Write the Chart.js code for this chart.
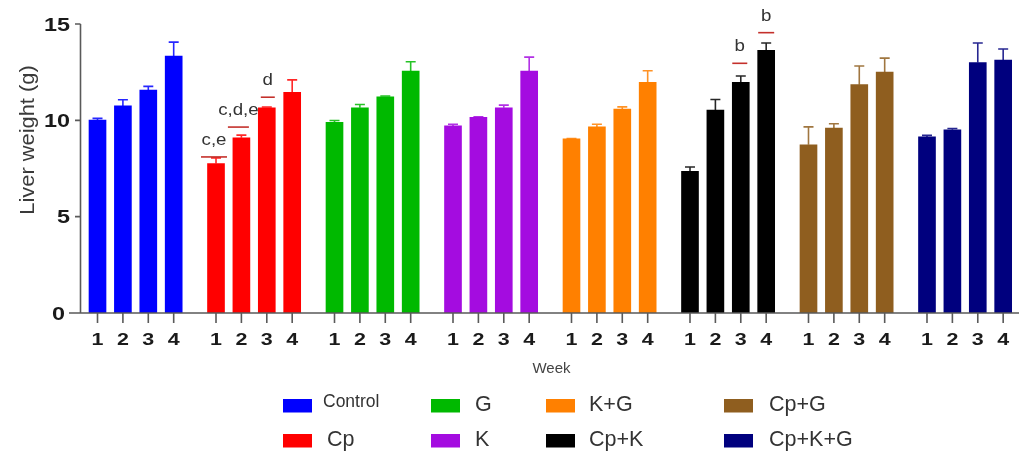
<!DOCTYPE html>
<html>
<head>
<meta charset="utf-8">
<title>Liver weight by week</title>
<script src="https://cdn.jsdelivr.net/npm/chart.js@4.4.1/dist/chart.umd.min.js"></script>
<style>
  html, body { margin: 0; padding: 0; background: #ffffff; }
  #wrap { width: 1019px; height: 453px; position: relative; }
</style>
</head>
<body>
<div id="wrap"><canvas id="chart" width="1019" height="453"></canvas></div>
<script>
// ---- data ----
const groups = ['Control', 'Cp', 'G', 'K', 'K+G', 'Cp+K', 'Cp+G', 'Cp+K+G'];
const weeks = ['1', '2', '3', '4'];
const yTicks = [0, 5, 10, 15];

// mean liver weight (g) per week, one array per treatment group
const controlMean = [10.01, 10.75, 11.57, 13.34];
const cpMean      = [7.76, 9.09, 10.65, 11.45];
const gMean       = [9.89, 10.65, 11.22, 12.56];
const kMean       = [9.71, 10.15, 10.65, 12.56];
const kgMean      = [9.04, 9.66, 10.58, 11.97];
const cpkMean     = [7.35, 10.53, 11.97, 13.63];
const cpgMean     = [8.73, 9.60, 11.85, 12.50];
const cpkgMean    = [9.14, 9.51, 13.00, 13.13];

// standard error (upper whisker) per week
const controlSem = [0.09, 0.32, 0.19, 0.72];
const cpSem      = [0.29, 0.14, 0.04, 0.65];
const gSem       = [0.10, 0.17, 0.04, 0.48];
const kSem       = [0.09, 0.03, 0.14, 0.72];
const kgSem      = [0.02, 0.14, 0.12, 0.60];
const cpkSem     = [0.23, 0.55, 0.33, 0.38];
const cpgSem     = [0.93, 0.22, 0.97, 0.73];
const cpkgSem    = [0.08, 0.07, 1.01, 0.57];

// significance letters: group index, week index, bracket level (g), label
const sigGroup = [1, 1, 1, 5, 5];
const sigWeek  = [0, 1, 2, 2, 3];
const sigLevel = [8.10, 9.65, 11.20, 12.96, 14.55];
const sigLabel = ['c,e', 'c,d,e', 'd', 'b', 'b'];

// ---- styles / layout ----
const groupColors = ['#0000ff', '#ff0000', '#00b900', '#a40ce0', '#ff8000', '#000000', '#8f5e1f', '#00007e'];
const FONT = "'Liberation Sans', Arial, Helvetica, sans-serif";
const BAR_STEP = 0.2143;          // spacing between week bars, in group units
const sigLineWidth = [26, 21, 14, 15, 16];
const sigLineShift = [-2, -3, 1, -1, 0];
const legendSwatchX = [283, 431, 546, 724];
const legendTextX = [[323, 327], [475, 475], [589, 589], [769, 769]];
const legendSwatchTop = [399, 434];
const legendBaseline = [411, 446];

const meanByGroup = [controlMean, cpMean, gMean, kMean, kgMean, cpkMean, cpgMean, cpkgMean];
const semByGroup  = [controlSem, cpSem, gSem, kSem, kgSem, cpkSem, cpgSem, cpkgSem];

const points = [];
const pointColors = [];
const pointSem = [];
groups.forEach((g, gi) => {
  weeks.forEach((w, wi) => {
    points.push({ x: gi + (wi - 1.5) * BAR_STEP, y: meanByGroup[gi][wi] });
    pointColors.push(groupColors[gi]);
    pointSem.push(semByGroup[gi][wi]);
  });
});

function drawText(ctx, text, x, y, font, color, align, sx) {
  ctx.save();
  ctx.font = font;
  ctx.fillStyle = color;
  ctx.textAlign = align || 'left';
  ctx.textBaseline = 'alphabetic';
  ctx.translate(x, y);
  ctx.scale(sx || 1, 1);
  ctx.fillText(text, 0, 0);
  ctx.restore();
}

// axes, whiskers, significance marks, week labels and legend
const decorations = {
  id: 'decorations',
  afterDatasetsDraw(chart) {
    const ctx = chart.ctx;
    const ys = chart.scales.y;
    const area = chart.chartArea;
    const bars = chart.getDatasetMeta(0).data;
    const axisColor = '#5a5a5a';
    const y0 = ys.getPixelForValue(0);

    // error whiskers (upper only)
    bars.forEach((el, i) => {
      const top = ys.getPixelForValue(points[i].y + pointSem[i]);
      const base = ys.getPixelForValue(points[i].y);
      ctx.save();
      ctx.strokeStyle = pointColors[i];
      ctx.globalAlpha = 0.85;
      ctx.lineWidth = 1.6;
      ctx.beginPath();
      ctx.moveTo(el.x, base);
      ctx.lineTo(el.x, top);
      ctx.moveTo(el.x - 5, top);
      ctx.lineTo(el.x + 5, top);
      ctx.stroke();
      ctx.restore();
    });

    // y axis line, ticks and labels
    ctx.save();
    ctx.strokeStyle = axisColor;
    ctx.lineWidth = 1.6;
    ctx.beginPath();
    ctx.moveTo(area.left + 0.5, ys.getPixelForValue(15));
    ctx.lineTo(area.left + 0.5, y0);
    yTicks.forEach(v => {
      const py = ys.getPixelForValue(v);
      ctx.moveTo(area.left - 5, py);
      ctx.lineTo(area.left + 0.5, py);
    });
    // x axis line
    ctx.moveTo(area.left - 11, y0);
    ctx.lineTo(area.right, y0);
    // week ticks under each bar
    bars.forEach(el => {
      ctx.moveTo(el.x, y0);
      ctx.lineTo(el.x, y0 + 10);
    });
    ctx.stroke();
    ctx.restore();

    yTicks.forEach(v => {
      const py = ys.getPixelForValue(v);
      drawText(ctx, String(v), v === 0 ? area.left - 15 : area.left - 10, py + 6.5,
        'bold 18px ' + FONT, '#1a1a1a', 'right', 1.3);
    });

    bars.forEach((el, i) => {
      drawText(ctx, weeks[i % 4], el.x, y0 + 31.5, 'bold 16.5px ' + FONT, '#1a1a1a', 'center', 1.3);
    });

    // significance brackets and letters
    sigLabel.forEach((lab, k) => {
      const el = bars[sigGroup[k] * 4 + sigWeek[k]];
      const cx = el.x + sigLineShift[k];
      const py = ys.getPixelForValue(sigLevel[k]);
      ctx.save();
      ctx.strokeStyle = '#c4302b';
      ctx.lineWidth = 1.6;
      ctx.beginPath();
      ctx.moveTo(cx - sigLineWidth[k] / 2, py);
      ctx.lineTo(cx + sigLineWidth[k] / 2, py);
      ctx.stroke();
      ctx.restore();
      drawText(ctx, lab, cx, py - 12, '17px ' + FONT, '#333333', 'center', 1.1);
    });
  },
  afterDraw(chart) {
    const ctx = chart.ctx;
    const ys = chart.scales.y;
    const area = chart.chartArea;
    const y0 = ys.getPixelForValue(0);

    // axis titles
    drawText(ctx, 'Week', (area.left + area.right) / 2 + 2, y0 + 60, '15px ' + FONT, '#444444', 'center', 1);
    ctx.save();
    ctx.translate(34, 140);
    ctx.rotate(-Math.PI / 2);
    drawText(ctx, 'Liver weight (g)', 0, 0, '21px ' + FONT, '#3a3a3a', 'center', 1.04);
    ctx.restore();

    // legend: two rows, four columns, filled column by column
    groups.forEach((g, gi) => {
      const col = Math.floor(gi / 2);
      const row = gi % 2;
      ctx.fillStyle = groupColors[gi];
      ctx.fillRect(legendSwatchX[col], legendSwatchTop[row], 29, 13.5);
      const small = gi === 0;
      drawText(ctx, g, legendTextX[col][row], legendBaseline[row] - (small ? 4 : 0),
        (small ? '17.5px ' : '21.5px ') + FONT, '#333333', 'left', 1);
    });
  }
};

new Chart(document.getElementById('chart'), {
  type: 'bar',
  data: {
    datasets: [{
      label: 'Liver weight (g)',
      data: points,
      backgroundColor: pointColors,
      borderColor: pointColors,
      borderWidth: 0,
      barThickness: 17
    }]
  },
  options: {
    responsive: false,
    animation: false,
    events: [],
    layout: { padding: { left: 80, top: 24, right: 0, bottom: 140 } },
    plugins: { legend: { display: false }, tooltip: { enabled: false } },
    scales: {
      x: { type: 'linear', min: -0.4692, max: 7.455, display: false, offset: false },
      y: { min: 0, max: 15, display: false }
    }
  },
  plugins: [decorations]
});
</script>
</body>
</html>
